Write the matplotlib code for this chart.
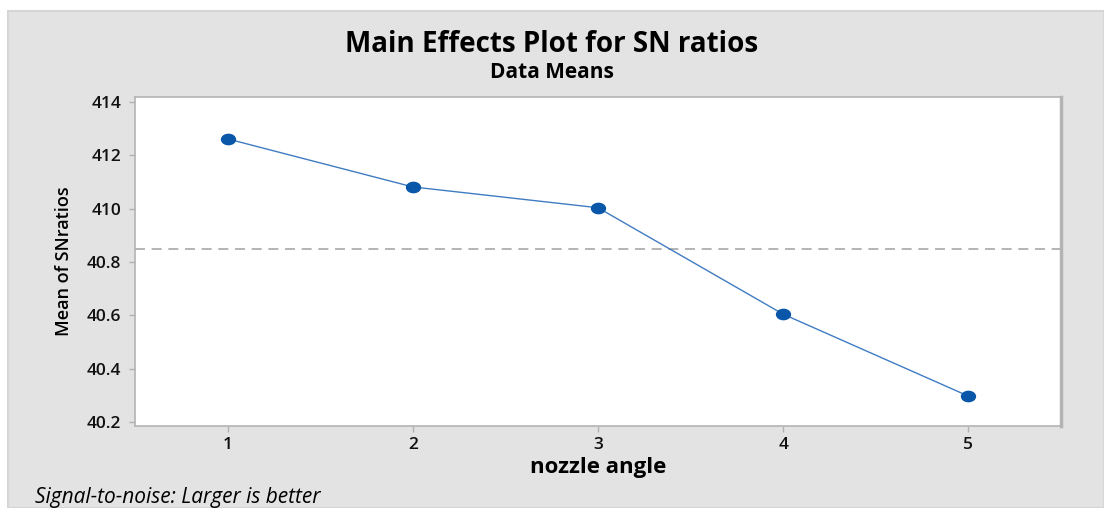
import matplotlib.pyplot as plt
from matplotlib.patches import Rectangle
from matplotlib.path import Path
from matplotlib.transforms import Affine2D

# nozzle angle levels and mean SN ratios
levels = [1, 2, 3, 4, 5]
sn_means = [41.261, 41.081, 41.003, 40.604, 40.297]
overall_mean = 40.849

ytick_vals = [40.2, 40.4, 40.6, 40.8, 41.0, 41.2, 41.4]
ytick_labels = ["40.2", "40.4", "40.6", "40.8", "410", "412", "414"]

plt.rcParams['font.family'] = ['Open Sans', 'DejaVu Sans']

fig = plt.figure(figsize=(11.04, 5.08), dpi=100, facecolor='white')
# grey panel behind everything
fig.patches.append(Rectangle((8 / 1104, 0), 1 - 8 / 1104, 1 - 11 / 508,
                             transform=fig.transFigure, facecolor='#e3e3e3',
                             edgecolor='#d6d6d6', linewidth=1.5, zorder=0))

ax = fig.add_axes([135 / 1104, 1 - 426 / 508, 926 / 1104, 329 / 508])
ax.set_zorder(2)
ax.set_facecolor('white')

# slightly wide dot, like the original
oval = Path.unit_circle().transformed(Affine2D().scale(1.35, 1.0))

ax.axhline(overall_mean, color='#a8a8a8', linestyle=(0, (6, 4)), linewidth=1.2, zorder=1)
ax.plot(levels, sn_means, color='#3f7cc2', linewidth=1.0, marker=oval,
        markersize=10, markerfacecolor='#0a56a8', markeredgecolor='#0a56a8', zorder=2)

ax.set_xlim(0.5, 5.5)
ax.set_ylim(40.185, 41.418)
ax.set_xticks(levels)
ax.set_xticklabels([str(v) for v in levels])
ax.set_yticks(ytick_vals)
ax.set_yticklabels(ytick_labels)
ax.tick_params(axis='both', direction='out', length=4, width=1, color='#b0b0b0',
               labelsize=12.5, labelcolor='#111111')
ax.tick_params(axis='y', pad=6)
ax.tick_params(axis='x', pad=4)
for lab in ax.get_xticklabels() + ax.get_yticklabels():
    lab.set_fontweight('semibold')
for name, sp in ax.spines.items():
    sp.set_color('#b4b4b4')
    sp.set_linewidth(1.2)
ax.spines['right'].set_linewidth(2.5)

ax.set_xlabel('nozzle angle', fontsize=16, fontweight='bold', labelpad=3)
ax.set_ylabel('Mean of SNratios', fontsize=13, fontweight='semibold', labelpad=10)

fig.text(0.5, 1 - 44 / 508, 'Main Effects Plot for SN ratios', ha='center', va='center',
         fontsize=20, fontweight='bold')
fig.text(0.5, 1 - 72 / 508, 'Data Means', ha='center', va='center',
         fontsize=15, fontweight='bold')
fig.text(35 / 1104, 1 - 497 / 508, 'Signal-to-noise: Larger is better', ha='left', va='center',
         fontsize=15, style='italic')

fig.savefig('out.png', dpi=100, facecolor=fig.get_facecolor())
